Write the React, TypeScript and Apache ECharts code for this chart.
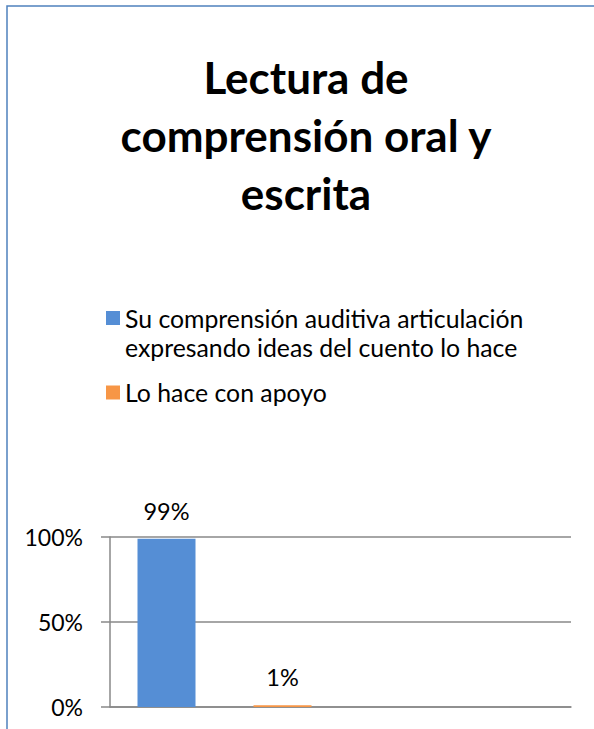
import React, { useEffect, useRef } from "react";
import * as echarts from "echarts";

// ---- data ----
const categories = [""];
const seriesNames = [
  "Su comprensión auditiva articulación\nexpresando ideas del cuento lo hace",
  "Lo hace con apoyo",
];
const seriesValues = [99, 1];
// Excel chart reserves two further (empty) series slots in the cluster
const emptySlots = 2;
const yTicks = [0, 50, 100];
const titleLines = ["Lectura de", "comprensión oral y", "escrita"];
const colors = ["#558ED5", "#F79646"];

const FONT = "Lato";

export default function App() {
  const ref = useRef<HTMLDivElement>(null);

  useEffect(() => {
    if (!ref.current) return;
    const chart = echarts.init(ref.current, undefined, { renderer: "svg" });

    const series: any[] = seriesNames.map((name, i) => ({
      type: "bar",
      name,
      data: [seriesValues[i]],
      barWidth: 58,
      barGap: "100%",
      itemStyle: { color: colors[i] },
      label: {
        show: true,
        position: "top",
        distance: 16,
        formatter: "{c}%",
        fontFamily: FONT,
        fontSize: 23.5,
        color: "#000",
      },
    }));
    for (let k = 0; k < emptySlots; k++) {
      series.push({
        type: "bar",
        name: "__empty" + k,
        data: [null],
        barWidth: 58,
        barGap: "100%",
      });
    }

    chart.setOption({
      animation: false,
      backgroundColor: "#fff",
      graphic: [
        {
          type: "rect",
          shape: { x: 7, y: 6, width: 700, height: 800 },
          style: { fill: "none", stroke: "#4F81BD", lineWidth: 1.5 },
          silent: true,
        },
        {
          type: "text",
          x: 306,
          y: 48,
          style: {
            text: titleLines.join("\n"),
            fontFamily: FONT,
            fontWeight: "bold",
            fontSize: 44,
            lineHeight: 58,
            fill: "#000",
            align: "center",
            verticalAlign: "top",
          },
        },
      ],
      legend: {
        orient: "vertical",
        left: 101,
        top: 269.5,
        itemWidth: 14,
        itemHeight: 14,
        itemGap: 16.5,
        icon: "rect",
        data: seriesNames,
        // leading empty line keeps the marker level with the first text line
        formatter: (name: string) => (name.indexOf("\n") >= 0 ? "\n" + name : name),
        textStyle: {
          fontFamily: FONT,
          fontSize: 24.8,
          lineHeight: 29,
          color: "#000",
        },
      },
      grid: { left: 110, right: 23, top: 537, bottom: 22 },
      xAxis: {
        type: "category",
        data: categories,
        axisLine: { show: true, lineStyle: { color: "#888", width: 1.5 } },
        axisTick: { show: false },
        axisLabel: { show: false },
      },
      yAxis: {
        type: "value",
        min: yTicks[0],
        max: yTicks[yTicks.length - 1],
        interval: yTicks[1] - yTicks[0],
        axisLine: { show: true, lineStyle: { color: "#888", width: 1.5 } },
        axisTick: { show: true, length: 9, lineStyle: { color: "#888", width: 1.5 } },
        splitLine: { show: true, lineStyle: { color: "#888", width: 1.5 } },
        axisLabel: {
          formatter: "{value}%",
          margin: 27,
          fontFamily: FONT,
          fontSize: 23,
          color: "#000",
        },
      },
      series,
    });

    return () => chart.dispose();
  }, []);

  return (
    <div
      ref={ref}
      style={{ position: "absolute", left: 0, top: 0, width: 594, height: 729 }}
    />
  );
}
